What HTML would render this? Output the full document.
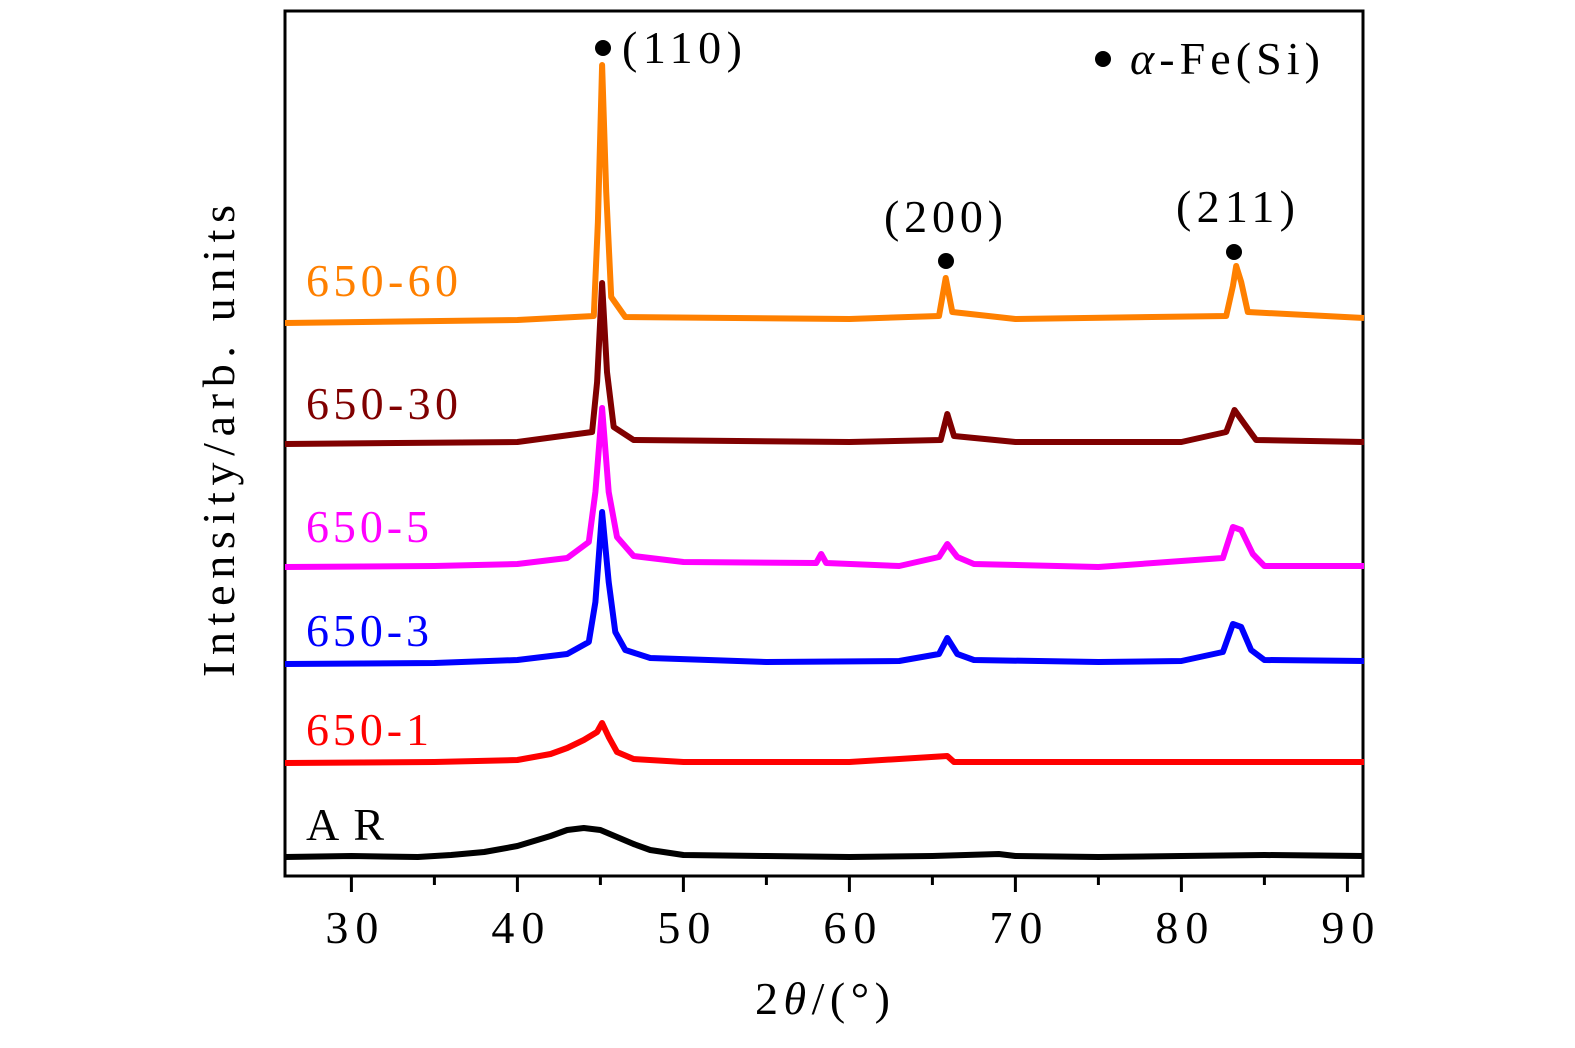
<!DOCTYPE html>
<html><head><meta charset="utf-8"><style>
html,body{margin:0;padding:0;background:#fff;}
svg text{font-family:"Liberation Serif",serif;}
</style></head><body>
<svg id="chart" width="1575" height="1043" viewBox="0 0 1575 1043">
<rect x="285" y="11" width="1078" height="865" fill="none" stroke="#000" stroke-width="3"/>
<g id="ticks"></g>
<g id="series"></g>
<text x="0" y="0" font-size="46" textLength="472" lengthAdjust="spacing" transform="translate(234 677) rotate(-90)">Intensity/arb. units</text>
<text x="755" y="1014" font-size="46" textLength="135" lengthAdjust="spacing">2<tspan font-style="italic">θ</tspan>/(°)</text>
<circle cx="603" cy="48" r="8" fill="#000"/>
<text x="622" y="63" font-size="46" textLength="120" lengthAdjust="spacing">(110)</text>
<circle cx="946" cy="261" r="8" fill="#000"/>
<text x="884" y="232" font-size="46" textLength="119" lengthAdjust="spacing">(200)</text>
<circle cx="1234" cy="252" r="8" fill="#000"/>
<text x="1176" y="222" font-size="46" textLength="119" lengthAdjust="spacing">(211)</text>
<circle cx="1103" cy="59" r="8" fill="#000"/>
<text x="1130" y="74" font-size="46" textLength="190" lengthAdjust="spacing"><tspan font-style="italic">α</tspan>-Fe(Si)</text>
</svg>
<script>
const xTicks=[30,40,50,60,70,80,90];
const minorTicks=[35,45,55,65,75,85];
const seriesNames=["AR","650-1","650-3","650-5","650-30","650-60"];
const seriesColors=["#000000","#ff0000","#0000ff","#ff00ff","#800000","#ff8000"];
const labelY=[840,745,646,542,419,296];
const xAR=[26,30,34,36,38,40,42,43,44,45,46,47,48,50,55,60,65,69,70,75,80,85,91];
const yAR=[15,16,15,17,20,26,36,42,44,42,35,28,22,17,16,15,16,18,16,15,16,17,16];
const x1=[26,35,40,42,43,44,44.8,45.1,45.5,46,47,50,60,65.9,66.3,70,80,91];
const y1=[109,110,112,118,124,132,140,149,135,120,113,110,110,116,110,110,110,110];
const x3=[26,35,40,43,44.3,44.7,45.1,45.5,45.9,46.5,48,55,63,65.4,65.9,66.5,67.5,75,80,82.5,83.1,83.6,84.2,85,91];
const y3=[208,209,212,218,230,270,360,290,240,222,214,210,211,218,234,218,212,210,211,220,248,245,222,212,211];
const x5=[26,35,40,43,44.3,44.7,45.1,45.5,46,47,50,58,58.3,58.6,63,65.4,65.9,66.5,67.5,75,82.5,83.1,83.6,84.3,85,91];
const y5=[305,306,308,314,330,380,464,380,335,316,310,309,318,309,306,315,328,315,308,305,314,345,342,318,306,306];
const x30=[26,40,44.5,44.8,45.1,45.4,45.8,47,60,65.5,65.9,66.3,70,80,82.7,83.2,83.8,84.5,91];
const y30=[428,430,440,490,589,500,445,432,430,432,458,436,430,430,440,462,448,432,430];
const x60=[26,40,44.6,44.85,45.1,45.35,45.65,46.5,60,65.4,65.8,66.2,70,82.7,83.1,83.3,83.6,84,91];
const y60=[549,552,556,650,807,680,575,555,553,556,594,560,553,556,586,606,590,560,554];
const allX=[xAR,x1,x3,x5,x30,x60];
const allY=[yAR,y1,y3,y5,y30,y60];
const labelW=[78,123,123,123,152,152];
const px=x=>285+(x-26)*16.6;
const py=v=>872-v;
const NS="http://www.w3.org/2000/svg";
const tg=document.getElementById('ticks');
xTicks.forEach(t=>{
 const l=document.createElementNS(NS,'line');
 l.setAttribute('x1',px(t));l.setAttribute('x2',px(t));l.setAttribute('y1',877);l.setAttribute('y2',892);
 l.setAttribute('stroke','#000');l.setAttribute('stroke-width','3');
 
 
 tg.appendChild(l);
 const tx=document.createElementNS(NS,'text');
 tx.setAttribute('x',px(t)-26);tx.setAttribute('y',943);tx.setAttribute('font-size','46');
 tx.setAttribute('textLength','53');tx.setAttribute('lengthAdjust','spacing');
 tx.textContent=t;
 
 
 tg.appendChild(tx);
});
minorTicks.forEach(t=>{
 const l=document.createElementNS(NS,'line');
 l.setAttribute('x1',px(t));l.setAttribute('x2',px(t));l.setAttribute('y1',877);l.setAttribute('y2',885);
 l.setAttribute('stroke','#000');l.setAttribute('stroke-width','3');
 
 
 tg.appendChild(l);
});
const sg=document.getElementById('series');
seriesNames.forEach((n,i)=>{
 const xs=allX[i],ys=allY[i];
 const d=xs.map((x,j)=>(j?'L':'M')+px(x).toFixed(1)+' '+py(ys[j]).toFixed(1)).join(' ');
 const p=document.createElementNS(NS,'path');
 p.setAttribute('d',d);p.setAttribute('fill','none');p.setAttribute('stroke',seriesColors[i]);
 p.setAttribute('stroke-width','6');p.setAttribute('stroke-linejoin','round');
 
 
 sg.appendChild(p);
 const t=document.createElementNS(NS,'text');
 t.setAttribute('x',306);t.setAttribute('y',labelY[i]);t.setAttribute('font-size','46');t.setAttribute('fill',seriesColors[i]);
 t.setAttribute('textLength',labelW[i]);t.setAttribute('lengthAdjust','spacing');
 t.textContent=n;
 
 
 sg.appendChild(t);
});
</script>
</body></html>
